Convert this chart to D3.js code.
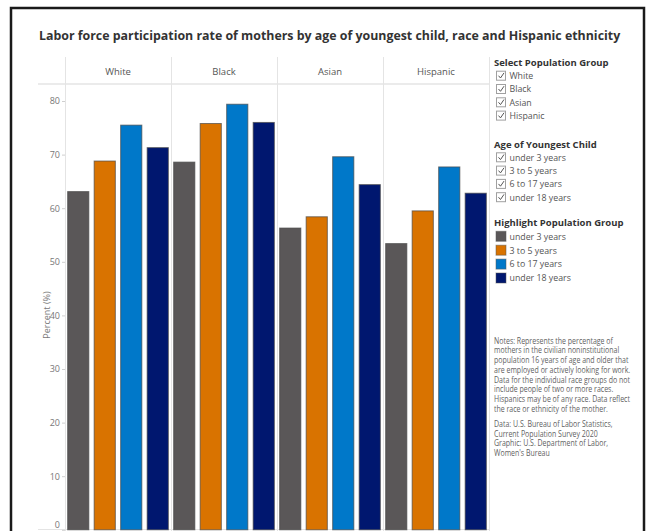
<!DOCTYPE html>
<html>
<head>
<meta charset="utf-8">
<script src="https://cdn.jsdelivr.net/npm/d3@7"></script>
<style>
  html, body { margin: 0; padding: 0; background: #fff; }
  svg { display: block; }
  text { font-family: "Open Sans", "Noto Sans", sans-serif; }
</style>
</head>
<body>
<svg id="chart" width="647" height="531"></svg>
<script>
// ---- Data ----
const groups = ["White", "Black", "Asian", "Hispanic"];
const ages = ["under 3 years", "3 to 5 years", "6 to 17 years", "under 18 years"];
const under3 = [63.1, 68.6, 56.3, 53.4];
const age3to5 = [68.8, 75.8, 58.4, 59.5];
const age6to17 = [75.5, 79.4, 69.6, 67.7];
const under18 = [71.3, 76.0, 64.4, 62.8];
const yTicks = [0, 10, 20, 30, 40, 50, 60, 70, 80];
const ageColors = ["#5a5758", "#d97300", "#0078c9", "#00176f"];
const title = "Labor force participation rate of mothers by age of youngest child, race and Hispanic ethnicity";
const notes = [
  "Notes: Represents the percentage of",
  "mothers in the civilian noninstitutional",
  "population 16 years of age and older that",
  "are employed or actively looking for work.",
  "Data for the individual race groups do not",
  "include people of two or more races.",
  "Hispanics may be of any race. Data reflect",
  "the race or ethnicity of the mother."
];
const credits = [
  "Data: U.S. Bureau of Labor Statistics,",
  "Current Population Survey 2020",
  "Graphic: U.S. Department of Labor,",
  "Women's Bureau"
];

const series = [under3, age3to5, age6to17, under18];
const rows = [];
groups.forEach((g, gi) => ages.forEach((a, ai) => rows.push({ group: g, age: a, value: series[ai][gi], ai })));

const svg = d3.select("#chart");

// outer frame
svg.append("rect").attr("x", 11).attr("y", 8).attr("width", 633).attr("height", 540)
  .attr("fill", "#fff").attr("stroke", "#1a1a1a").attr("stroke-width", 2.5);

// title: fit to the reference width without glyph distortion
const tt = svg.append("text").attr("x", 39).attr("y", 39.5)
  .attr("font-family", "Lato, 'Open Sans', sans-serif")
  .attr("font-size", 15).attr("font-weight", 700).attr("fill", "#333")
  .text(title);
const tw = tt.node().getComputedTextLength();
tt.attr("font-size", Math.min(15, 15 * 582 / tw));

// scales
const x0 = d3.scaleBand().domain(groups).range([65, 489]);
const x1 = d3.scaleBand().domain(ages).range([0, x0.bandwidth()]).paddingInner(0.2).paddingOuter(0.1);
const y = d3.scaleLinear().domain([0, 80]).range([529.8, 101]);
const color = d3.scaleOrdinal().domain(ages).range(ageColors);

const gridColor = "#e4e4e4";

// header line
svg.append("line").attr("x1", 38).attr("x2", 489).attr("y1", 84).attr("y2", 84)
  .attr("stroke", gridColor).attr("stroke-width", 1.5);
// bottom line
svg.append("line").attr("x1", 38).attr("x2", 489).attr("y1", 529.5).attr("y2", 529.5)
  .attr("stroke", gridColor).attr("stroke-width", 1);

// panel dividers
const divs = groups.map(g => x0(g)).concat([x0.range()[1]]);
svg.selectAll("line.div").data(divs).enter().append("line")
  .attr("class", "div")
  .attr("x1", d => d + 0.5).attr("x2", d => d + 0.5)
  .attr("y1", 57).attr("y2", 531)
  .attr("stroke", gridColor).attr("stroke-width", 1);

// header labels
svg.selectAll("text.hdr").data(groups).enter().append("text")
  .attr("class", "hdr")
  .attr("x", d => x0(d) + x0.bandwidth() / 2).attr("y", 74.5)
  .attr("text-anchor", "middle").attr("font-size", 9.5).attr("fill", "#555")
  .text(d => d);

// y axis
const yAxis = d3.axisLeft(y).tickValues(yTicks).tickSize(3).tickPadding(2).tickFormat(d3.format("d"));
const ga = svg.append("g").attr("transform", "translate(65,0)").call(yAxis);
ga.select(".domain").remove();
ga.selectAll(".tick line").attr("stroke", "#cfcfcf");
ga.selectAll(".tick text").attr("fill", "#777").attr("font-size", 9)
  .attr("font-family", "'Open Sans', sans-serif");
ga.selectAll(".tick text").filter(d => d === 0).attr("dy", "-0.25em");

// y axis title
svg.append("text").attr("transform", "translate(50,315) rotate(-90)")
  .attr("text-anchor", "middle").attr("font-size", 9).attr("fill", "#777")
  .text("Percent (%)");

// bars
svg.append("g").selectAll("rect").data(rows).enter().append("rect")
  .attr("x", d => x0(d.group) + x1(d.age))
  .attr("width", x1.bandwidth())
  .attr("y", d => y(d.value))
  .attr("height", d => y(0) - y(d.value))
  .attr("fill", d => color(d.age))
  .attr("stroke", "#4a4a4a").attr("stroke-opacity", 0.7).attr("stroke-width", 1);

// right-side panel
const lx = 494;
function heading(txt, yy) {
  svg.append("text").attr("x", lx).attr("y", yy).attr("font-size", 9.5)
    .attr("font-weight", 700).attr("fill", "#333").text(txt);
}
function checkList(items, y0) {
  items.forEach((t, i) => {
    const yy = y0 + i * 13.3;
    svg.append("rect").attr("x", 496.5).attr("y", yy - 4.5).attr("width", 9).attr("height", 9)
      .attr("fill", "#fff").attr("stroke", "#a0a0a0").attr("stroke-width", 1);
    svg.append("path").attr("d", `M${498.5},${yy} L${500.5},${yy + 2.3} L${504},${yy - 2.8}`)
      .attr("fill", "none").attr("stroke", "#555").attr("stroke-width", 1);
    svg.append("text").attr("x", 509.5).attr("y", yy + 3.3).attr("font-size", 8.8)
      .attr("fill", "#555").text(t);
  });
}
heading("Select Population Group", 66);
checkList(groups, 75.7);
heading("Age of Youngest Child", 147.5);
checkList(ages, 157.3);
heading("Highlight Population Group", 226);
ages.forEach((a, i) => {
  const yy = 236.3 + i * 13.9;
  svg.append("rect").attr("x", 496).attr("y", yy - 5).attr("width", 10).attr("height", 10)
    .attr("fill", color(a)).attr("stroke", "#555").attr("stroke-opacity", 0.5);
  svg.append("text").attr("x", 509.5).attr("y", yy + 3.3).attr("font-size", 8.8)
    .attr("fill", "#555").text(a);
});

// notes
const ng = svg.append("g");
const lineH = 9.75;
const noteFont = "'Liberation Sans Narrow', 'Liberation Sans', Arial, sans-serif";
notes.forEach((t, i) => {
  ng.append("text").attr("x", 0).attr("y", 343.6 + i * lineH).attr("font-size", 8.4)
    .attr("font-family", noteFont).attr("fill", "#5f5f5f").text(t);
});
credits.forEach((t, i) => {
  ng.append("text").attr("x", 0).attr("y", 426.9 + i * lineH).attr("font-size", 8.4)
    .attr("font-family", noteFont).attr("fill", "#5f5f5f").text(t);
});
// fit horizontally to the width of the source's narrow typeface
let maxW = 0;
ng.selectAll("text").each(function () { maxW = Math.max(maxW, this.getComputedTextLength()); });
const sx = 136 / maxW;
ng.attr("transform", `translate(${lx},0) scale(${sx},1)`);
</script>
</body>
</html>
